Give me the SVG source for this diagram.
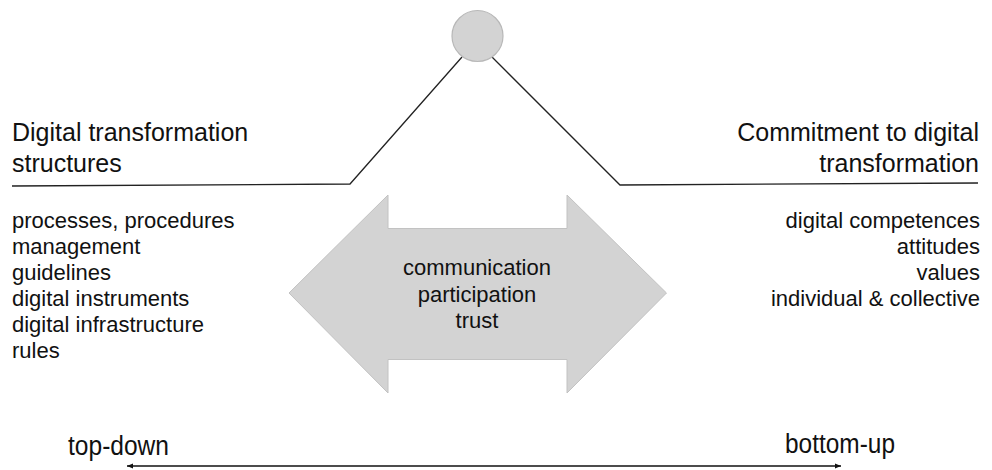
<svg xmlns="http://www.w3.org/2000/svg" width="992" height="470" viewBox="0 0 992 470">
<defs>
<style>
text{font-family:"Liberation Sans",Arial,sans-serif;fill:#111;}
.h{font-size:25px;}
.l{font-size:22px;}
.b{font-size:27px;}
.ln{fill:none;stroke:#222;stroke-width:1.3;}
</style>
<marker id="ah" viewBox="0 0 10 10" refX="10" refY="5" markerWidth="6" markerHeight="6" orient="auto-start-reverse" markerUnits="userSpaceOnUse">
<path d="M0,1 L10,5 L0,9 Z" fill="#111"/>
</marker>
</defs>
<rect width="992" height="470" fill="#fff"/>
<g id="connectors">
<polyline class="ln" points="12,186 350,184 462,57"/>
<polyline class="ln" points="492,57 620,185 978,183"/>
<line x1="127" y1="466" x2="841" y2="466" stroke="#111" stroke-width="1.3" marker-start="url(#ah)" marker-end="url(#ah)"/>
</g>
<g id="apex">
<circle cx="477.5" cy="36" r="25.5" fill="#d3d3d3" stroke="#b8b8b8" stroke-width="1.2"/>
</g>
<g id="left">
<text class="h" x="12" y="141">Digital transformation</text>
<text class="h" x="12" y="172">structures</text>
<text class="l" x="12" y="228">processes, procedures</text>
<text class="l" x="12" y="254">management</text>
<text class="l" x="12" y="280">guidelines</text>
<text class="l" x="12" y="306">digital instruments</text>
<text class="l" x="12" y="332">digital infrastructure</text>
<text class="l" x="12" y="358">rules</text>
</g>
<g id="right" text-anchor="end">
<text class="h" x="979" y="141">Commitment to digital</text>
<text class="h" x="979" y="172">transformation</text>
<text class="l" x="980" y="228">digital competences</text>
<text class="l" x="980" y="254">attitudes</text>
<text class="l" x="980" y="280">values</text>
<text class="l" x="980" y="306">individual &amp; collective</text>
</g>
<g id="center">
<polygon points="289,293 388,195 388,228.5 567,228.5 567,195 666.5,293 567,393 567,359.5 388,359.5 388,393" fill="#d3d3d3" stroke="#c2c2c2" stroke-width="1"/>
<text class="l" x="477" y="275" text-anchor="middle">communication</text>
<text class="l" x="477" y="301.5" text-anchor="middle">participation</text>
<text class="l" x="477" y="328" text-anchor="middle">trust</text>
</g>
<g id="axis">
<text class="b" x="68" y="455" textLength="101" lengthAdjust="spacingAndGlyphs">top-down</text>
<text class="b" x="785" y="453" textLength="110" lengthAdjust="spacingAndGlyphs">bottom-up</text>
</g>
</svg>
